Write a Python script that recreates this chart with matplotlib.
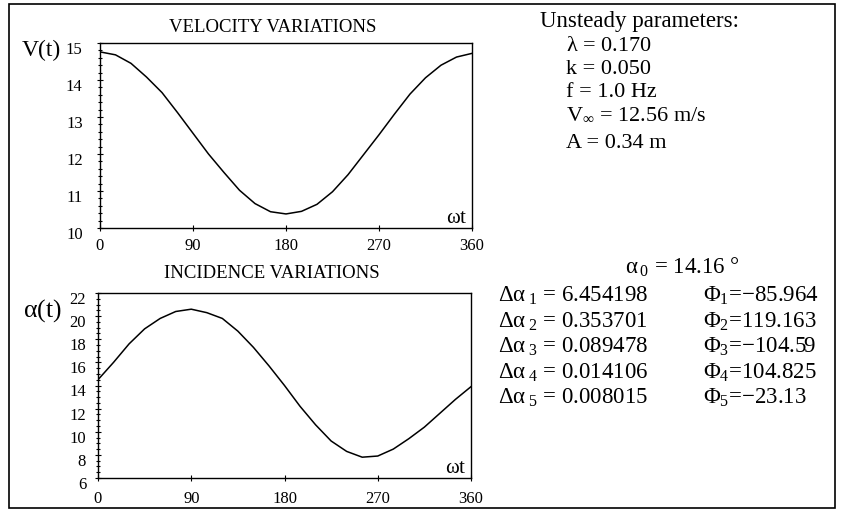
import matplotlib
matplotlib.use("Agg")
import matplotlib.pyplot as plt
from matplotlib.patches import Rectangle
from matplotlib.ticker import AutoMinorLocator
from matplotlib.transforms import ScaledTranslation

plt.rcParams['font.family'] = ['Liberation Serif', 'DejaVu Serif']
plt.rcParams['mathtext.fontset'] = 'custom'
plt.rcParams['mathtext.rm'] = 'Liberation Serif'
plt.rcParams['mathtext.it'] = 'Liberation Serif'
plt.rcParams['mathtext.bf'] = 'Liberation Serif:bold'

# phase angle (deg)
wt = [0, 15, 30, 45, 60, 75, 90, 105, 120, 135, 150, 165, 180,
      195, 210, 225, 240, 255, 270, 285, 300, 315, 330, 345, 360]

# velocity V(t), m/s
velocity = [14.76, 14.68, 14.45, 14.08, 13.66, 13.12, 12.56, 12.00, 11.50,
            11.02, 10.66, 10.44, 10.38, 10.45, 10.64, 10.98, 11.44, 11.98,
            12.52, 13.08, 13.62, 14.06, 14.40, 14.62, 14.72]

# incidence alpha(t), deg
incidence = [14.5, 16.0, 17.6, 18.9, 19.8, 20.4, 20.6, 20.3, 19.8, 18.7,
             17.3, 15.7, 14.0, 12.2, 10.6, 9.2, 8.3, 7.8, 7.9, 8.5, 9.4,
             10.4, 11.6, 12.8, 13.9]

x_ticks = [0, 90, 180, 270, 360]
v_ticks = [10, 11, 12, 13, 14, 15]
a_ticks = [6, 8, 10, 12, 14, 16, 18, 20, 22]

params = [r'$\lambda$ = 0.170', 'k = 0.050', 'f = 1.0 Hz',
          r'V$_{\infty}$ = 12.56 m/s', 'A = 0.34 m']
d_alpha = ['6.454198', '0.353701', '0.089478', '0.014106', '0.008015']
phi = ['\u221285.964', '119.163', '\u2212104.59', '104.825', '\u221223.13']

W, H = 842, 525


def px(x, y):
    return x / W, 1 - y / H


def style_axes(ax, yticks, nminor, xpad, ypad):
    ax.set_xlim(0, 360)
    ax.set_ylim(yticks[0], yticks[-1])
    ax.set_xticks(x_ticks)
    ax.set_yticks(yticks)
    ax.yaxis.set_minor_locator(AutoMinorLocator(nminor))
    ax.tick_params(which='both', direction='inout', labelsize=12, width=0.8)
    ax.tick_params(axis='x', pad=xpad)
    ax.tick_params(axis='y', pad=ypad)
    ax.tick_params(which='major', length=5)
    ax.tick_params(which='minor', length=3)
    for s in ax.spines.values():
        s.set_linewidth(1.0)
    shift = ScaledTranslation(0, -5 / 100, fig.dpi_scale_trans)
    for lab in ax.get_yticklabels():
        lab.set_transform(lab.get_transform() + shift)
    ax.text(0.988, 0.0, r'$\omega$t', transform=ax.transAxes,
            ha='right', va='bottom', fontsize=15)


fig = plt.figure(figsize=(W / 100, H / 100), dpi=100)
fig.patches.append(Rectangle(px(9, 508), 826 / W, 504 / H,
                             transform=fig.transFigure, fill=False,
                             lw=1.2, ec='black'))

ax1 = fig.add_axes([100 / W, 1 - 228 / H, 372 / W, 185 / H])
ax1.plot(wt, velocity, color='black', lw=1.1)
style_axes(ax1, v_ticks, 5, 5, 10)
fig.text(*px(273, 27), 'VELOCITY VARIATIONS', ha='center', va='center', fontsize=13.5)
fig.text(*px(41, 50), 'V(t)', ha='center', va='center', fontsize=17)

ax2 = fig.add_axes([98 / W, 1 - 478 / H, 373 / W, 185 / H])
ax2.plot(wt, incidence, color='black', lw=1.1)
style_axes(ax2, a_ticks, 4, 7, 6)
fig.text(*px(272, 274), 'INCIDENCE VARIATIONS', ha='center', va='center', fontsize=13.5)
fig.text(*px(42, 311), r'$\alpha$(t)', ha='center', va='center', fontsize=18.5)

fig.text(*px(540, 27), 'Unsteady parameters:', ha='left', va='baseline', fontsize=16.5)
param_y = [51, 74, 97, 119, 148]
for y, line in zip(param_y, params):
    fig.text(*px(566, y), line, ha='left', va='baseline', fontsize=16)

fig.text(*px(625, 274), r'$\alpha\hspace{0.15}{}_{0}$ = 14.16 °',
         ha='left', va='baseline', fontsize=16.5)
for i in range(5):
    y = 302 + 25.5 * i
    fig.text(*px(498, y), r'$\Delta\alpha\hspace{0.2}{}_{%d}$ = %s' % (i + 1, d_alpha[i]),
             ha='left', va='baseline', fontsize=16.5)
    fig.text(*px(703, y), r'$\Phi_{%d}$=%s' % (i + 1, phi[i]),
             ha='left', va='baseline', fontsize=16.5)

fig.savefig('out.png', dpi=100)
